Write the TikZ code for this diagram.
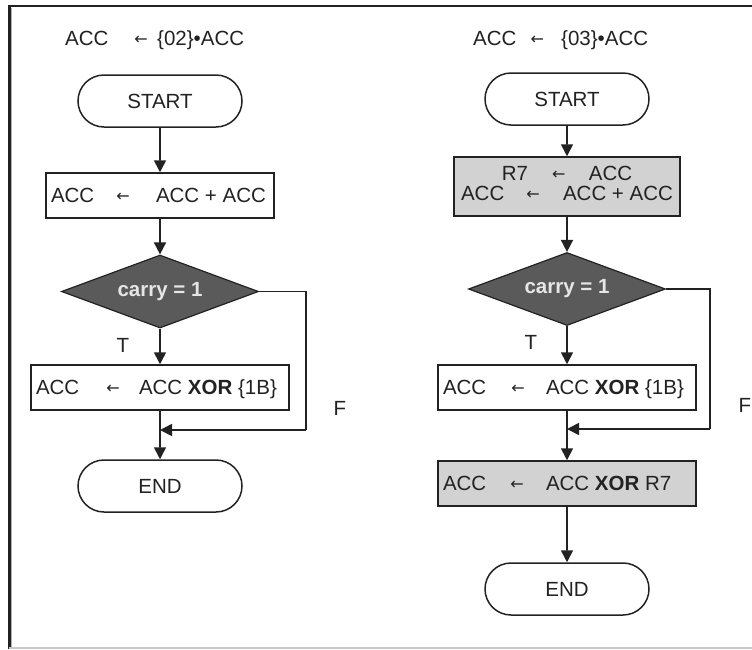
\documentclass[tikz,border=0pt]{standalone}
\usepackage{fontspec}
\setmainfont{Liberation Sans}
\newfontfamily\arrowfont{DejaVu Sans}
\usetikzlibrary{shapes.geometric,shapes.misc,arrows.meta}
\definecolor{ink}{HTML}{222222}
\definecolor{boxgray}{HTML}{D2D2D2}
\definecolor{decgray}{HTML}{5A5A5A}
\definecolor{dectext}{HTML}{E6E6E6}
\definecolor{edge}{HTML}{C8C8C8}
% small assignment arrow
\newcommand{\arr}{{\arrowfont\fontsize{16}{16}\selectfont\raisebox{1pt}{←}}}
% "lhs <- rhs" with fixed tab stops: arrow centre and gap before rhs
\newcommand{\assign}[4]{\mbox{\makebox[#2][l]{#1}\makebox[0pt][c]{\arr}\hspace{#3}#4}}

\begin{document}
\begin{tikzpicture}[x=1pt,y=-1pt,
  font=\fontsize{20.5}{21}\selectfont,
  every node/.style={text=ink},
  terminal/.style={draw=ink, line width=1.5pt, rounded rectangle,
    minimum width=164pt, minimum height=52pt, inner sep=0pt},
  procbox/.style={draw=ink, line width=1.5pt, rectangle, minimum height=45pt,
    inner xsep=5pt, inner ysep=0pt, text height=15pt, text depth=1pt},
  decision/.style={draw=ink, line width=1.2pt, diamond, fill=decgray,
    minimum width=197pt, minimum height=73pt, inner sep=0pt, aspect=2.7,
    text=dectext, font=\fontsize{20.5}{21}\selectfont\bfseries},
  flow/.style={draw=ink, line width=1.6pt, -{Triangle[length=12pt,width=12pt]}},
  wire/.style={draw=ink, line width=1.6pt}
]
\useasboundingbox (0,0) rectangle (752,649);
\fill[white] (0,0) rectangle (752,649);

% frame
\draw[line width=2.4pt, ink] (9.5,649) -- (9.5,6) -- (752,6);
\draw[line width=1pt, gray!60] (11.5,649) -- (11.5,8);
\draw[line width=1.4pt, edge] (9,648) -- (752,648);

% ---- multiply by {02}
\node[anchor=west, inner sep=0pt] (tL) at (65,40) {\assign{ACC}{76pt}{16pt}{\{02\}•ACC}};
\node[terminal] (sL) at (160,101) {START};
\node[procbox, minimum width=228pt] (aL) at (160,195.5)
  {\makebox[218pt][l]{\assign{ACC}{72pt}{33pt}{ACC + ACC}}};
\node[decision] (dL) at (160,291.5) {carry = 1};
\node[procbox, minimum width=258pt] (xL) at (160,387.5)
  {\makebox[248pt][l]{\assign{ACC}{77pt}{26pt}{ACC \textbf{XOR} \{1B\}}}};
\node[terminal] (eL) at (160,486) {END};
\node (TL) at (123,345) {T};
\node (FL) at (340,408) {F};
\coordinate (cL) at (306,430);
\coordinate (mL) at (160,430);

\draw[flow] (sL) -- (aL);
\draw[flow] (aL) -- (dL);
\draw[flow] (dL) -- (xL);
\draw[flow] (xL) -- (eL);
\draw[wire] (dL.east) -| (cL);
\draw[flow] (cL) -- (mL);

% ---- multiply by {03}
\node[anchor=west, inner sep=0pt] (tR) at (473,40) {\assign{ACC}{64pt}{24pt}{\{03\}•ACC}};
\node[terminal] (sR) at (567,99) {START};
\node[draw=ink, line width=1.5pt, fill=boxgray, minimum width=226pt,
  minimum height=59pt, inner sep=0pt] (bR) at (567,186.5) {};
\node[align=center, font=\fontsize{20.5}{20}\selectfont, inner sep=0pt] (bRtext) at (567,183.5)
  {\assign{R7}{57pt}{30pt}{ACC}\\\assign{ACC}{72pt}{30pt}{ACC + ACC}};
\node[decision] (dR) at (567,289) {carry = 1};
\node[procbox, minimum width=258pt] (xR) at (567,387.5)
  {\makebox[248pt][l]{\assign{ACC}{75pt}{28pt}{ACC \textbf{XOR} \{1B\}}}};
\node[procbox, fill=boxgray, minimum width=258pt] (gR) at (567,483.5)
  {\makebox[248pt][l]{\assign{ACC}{74pt}{29pt}{ACC \textbf{XOR} R7}}};
\node[terminal] (eR) at (567,589) {END};
\node (TR) at (531,342) {T};
\node (FR) at (745,405) {F};
\coordinate (cR) at (710,429);
\coordinate (mR) at (567,429);

\draw[flow] (sR) -- (bR);
\draw[flow] (bR) -- (dR);
\draw[flow] (dR) -- (xR);
\draw[flow] (xR) -- (gR);
\draw[flow] (gR) -- (eR);
\draw[wire] (dR.east) -| (cR);
\draw[flow] (cR) -- (mR);
\end{tikzpicture}
\end{document}
